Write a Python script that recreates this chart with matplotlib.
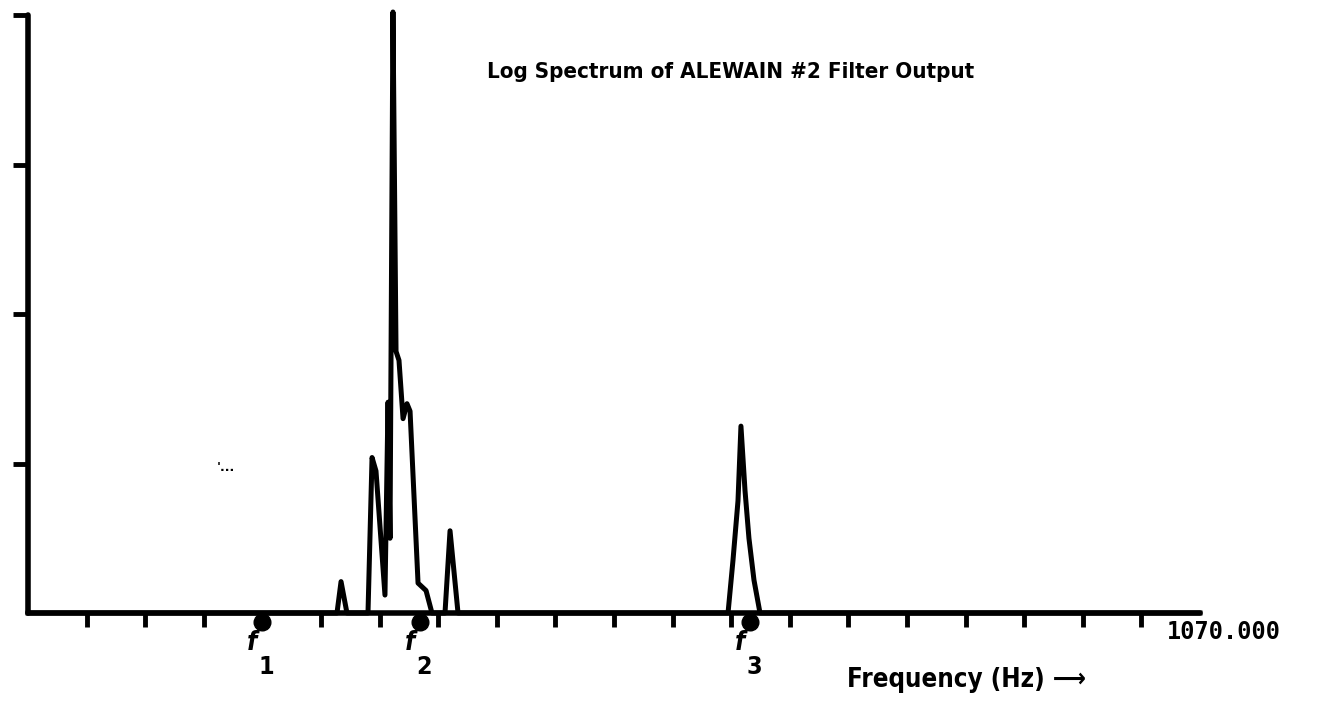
import matplotlib
matplotlib.use("Agg")
import matplotlib.pyplot as plt

# spectrum trace (frequency in Hz, log level in axis units 0..4)
freq = [0, 282.1, 285.8, 291.2, 310.4, 314.1, 317.7, 325.9, 328.7, 330.5,
        333.2, 336.0, 338.7, 342.4, 346.0, 348.8, 356.1, 363.4, 368.8,
        380.7, 385.3, 392.6, 639.1, 643.6, 648.2, 650.9, 654.6, 658.2,
        662.8, 668.3, 1070]
level = [0, 0, 0.21, 0, 0, 1.04, 0.95, 0.12, 1.41, 0.5,
         4.02, 1.75, 1.69, 1.3, 1.4, 1.35, 0.2, 0.15, 0,
         0, 0.55, 0, 0, 0.35, 0.75, 1.25, 0.82, 0.5,
         0.22, 0, 0]

# marked filter frequencies
marker_freq = [213.6, 358.0, 659.0]
marker_names = ["1", "2", "3"]

x_max = 1070.0
n_ticks = 20
y_ticks = [1, 2, 3, 4]

title = "Log Spectrum of ALEWAIN #2 Filter Output"
x_label = "Frequency (Hz) \u27f6"
end_label = "1070.000"

fig = plt.figure(figsize=(13.27, 7.03), dpi=100)
ax = fig.add_axes([28 / 1327, 1 - 613 / 703, 1172 / 1327, 598 / 703])

ax.plot(freq, level, color="black", lw=3.6, clip_on=False,
        solid_joinstyle="round", zorder=3)

ax.set_xlim(0, x_max)
ax.set_ylim(0, 4)
ax.spines["top"].set_visible(False)
ax.spines["right"].set_visible(False)
for s in ("left", "bottom"):
    ax.spines[s].set_linewidth(4)
    ax.spines[s].set_capstyle("round")

ax.set_xticks([x_max / n_ticks * k for k in range(1, n_ticks)])
ax.set_xticklabels([])
ax.set_yticks(y_ticks)
ax.set_yticklabels([])
ax.tick_params(axis="x", direction="out", length=10, width=3.5)
ax.tick_params(axis="y", direction="out", length=11, width=3.5)

# filter markers f1, f2, f3
ax.plot(marker_freq, [-0.06] * len(marker_freq), "o", color="black",
        ms=12, clip_on=False, zorder=4)
for xf, nm in zip(marker_freq, marker_names):
    ax.text(xf - 9, -0.2, "f", fontsize=19, fontweight="bold",
            fontstyle="italic", ha="center", va="center", fontstretch="condensed")
    ax.text(xf + 4, -0.36, nm, fontsize=18, fontweight="bold",
            ha="center", va="center", fontstretch="condensed")

ax.text(419, 3.62, title, fontsize=16, fontweight="bold",
        fontstretch="condensed", ha="left", va="center")
ax.text(748, -0.45, x_label, fontsize=18.5, fontweight="bold",
        fontstretch="condensed", ha="left", va="center")
ax.text(1040, -0.13, end_label, fontsize=17, fontweight="bold",
        family="DejaVu Sans Mono", ha="left", va="center")
ax.text(172, 0.97, "'...", fontsize=9, fontweight="bold", ha="left", va="center")

fig.savefig("out.png", dpi=100)
